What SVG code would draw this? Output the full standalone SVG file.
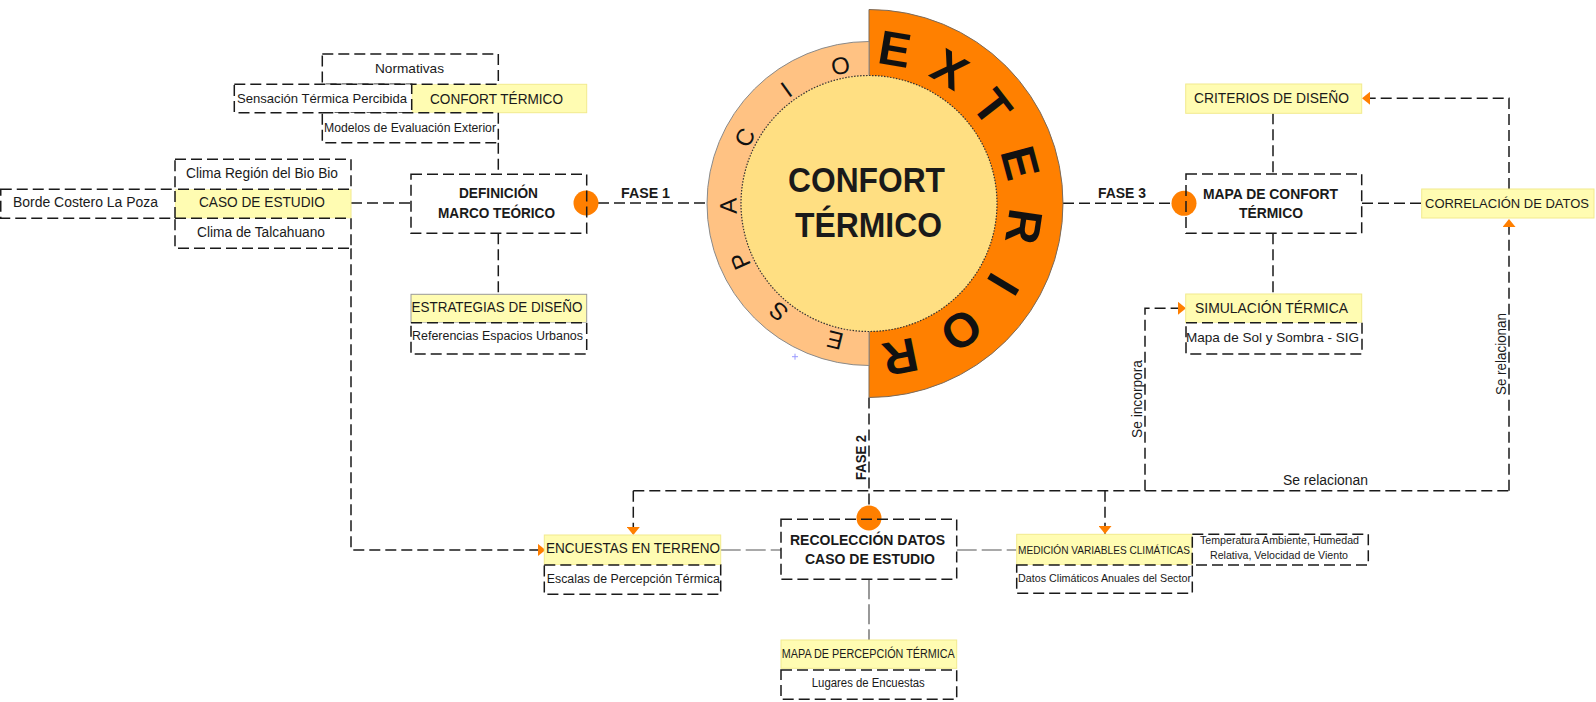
<svg xmlns="http://www.w3.org/2000/svg" width="1596" height="702" viewBox="0 0 1596 702">
<style>
.bx{fill:#fff;stroke:#1a1a1a;stroke-width:1.5;stroke-dasharray:11 5}
.bf{fill:#fff;stroke:none}
.bs{fill:none;stroke:#1a1a1a;stroke-width:1.5;stroke-dasharray:11 5}
.yb{fill:#FFFCB2;stroke:#F2EA8E;stroke-width:1}
.t{font-family:"Liberation Sans",Arial,sans-serif;fill:#1a1a1a;text-anchor:middle}
.b{font-weight:bold}
.c{fill:none;stroke:#1a1a1a;stroke-width:1.5;stroke-dasharray:11 5}
.g{fill:none;stroke:#555;stroke-width:1.2;stroke-dasharray:20 5}
.dot{fill:#FF7F00}
.rl{font-family:"Liberation Sans",Arial,sans-serif;fill:#111;text-anchor:middle}
</style>
<defs>
<marker id="ar" markerWidth="9" markerHeight="13" refX="8" refY="6.5" orient="auto" markerUnits="userSpaceOnUse"><path d="M0,0 L8,6.5 L0,13 Z" fill="#FF7F00"/></marker>
</defs>
<rect width="1596" height="702" fill="#fff"/>

<g id="connectors">
<path class="c" d="M351,203 H411"/>
<path class="c" d="M498.3,142.7 V174.3"/>
<path class="c" d="M498.3,233.3 V294.3"/>
<path class="c" d="M598,203 H707"/>
<path class="c" d="M1063,203.3 H1172"/>
<path class="c" d="M1273,113.3 V174"/>
<path class="c" d="M1273,233.3 V294"/>
<path class="c" d="M1362,203.3 H1422"/>
<path class="c" d="M1509,189 V98.3 H1362" marker-end="url(#ar)"/>
<path class="c" d="M869,397.5 V505"/>
<path class="c" d="M633.3,490.7 H1509"/>
<path class="c" d="M633.3,490.7 V535" marker-end="url(#ar)"/>
<path class="c" d="M1105,490.7 V534" marker-end="url(#ar)"/>
<path class="c" d="M1145,490.7 V308.3 H1186" marker-end="url(#ar)"/>
<path class="c" d="M1509,490.7 V219" marker-end="url(#ar)"/>
<path class="c" d="M351,248.3 V550 H545.5" marker-end="url(#ar)"/>
<path class="g" d="M720.7,550 H781"/>
<path class="g" d="M956.7,550 H1016.7"/>
<path class="g" d="M869,579.3 V640"/>
<text class="t b" x="645.5" y="198.3" font-size="14" textLength="49" lengthAdjust="spacingAndGlyphs">FASE 1</text>
<text class="t b" x="1122" y="198.3" font-size="14" textLength="48" lengthAdjust="spacingAndGlyphs">FASE 3</text>
<text class="t b" font-size="14" textLength="45" lengthAdjust="spacingAndGlyphs" transform="translate(865.5,457.5) rotate(-90)">FASE 2</text>
<text class="t" font-size="14" textLength="78" lengthAdjust="spacingAndGlyphs" transform="translate(1142,399) rotate(-90)">Se incorpora</text>
<text class="t" font-size="14" textLength="82" lengthAdjust="spacingAndGlyphs" transform="translate(1506,354) rotate(-90)">Se relacionan</text>
<text class="t" x="1325.5" y="485" font-size="14" textLength="85" lengthAdjust="spacingAndGlyphs">Se relacionan</text>
</g>

<g id="n-confort-termico">
<rect class="yb" x="411.7" y="84.3" width="175" height="28.4"/>
<rect class="bx" x="322.3" y="54" width="176" height="30.3"/>
<rect class="bx" x="234.3" y="84.3" width="177.4" height="28.4"/>
<rect class="bx" x="322.3" y="112.7" width="176" height="30"/>
<text class="t" x="409.5" y="73.3" font-size="13" textLength="69" lengthAdjust="spacingAndGlyphs">Normativas</text>
<text class="t" x="322" y="103.3" font-size="13" textLength="170" lengthAdjust="spacingAndGlyphs">Sensación Térmica Percibida</text>
<text class="t" x="496.5" y="103.5" font-size="15.5" textLength="133" lengthAdjust="spacingAndGlyphs">CONFORT TÉRMICO</text>
<text class="t" x="410" y="131.7" font-size="12.5" textLength="172" lengthAdjust="spacingAndGlyphs">Modelos de Evaluación Exterior</text>
</g>

<g id="n-caso-estudio">
<rect class="yb" x="175" y="189.3" width="176" height="29"/>
<rect class="bx" x="175" y="159.3" width="176" height="30"/>
<rect class="bx" x="0.75" y="189.3" width="174.25" height="29"/>
<rect class="bx" x="175" y="218.3" width="176" height="30"/>
<text class="t" x="262" y="178.3" font-size="14" textLength="152" lengthAdjust="spacingAndGlyphs">Clima Región del Bio Bio</text>
<text class="t" x="85.5" y="206.7" font-size="14" textLength="145" lengthAdjust="spacingAndGlyphs">Borde Costero La Poza</text>
<text class="t" x="262" y="206.7" font-size="15" textLength="126" lengthAdjust="spacingAndGlyphs">CASO DE ESTUDIO</text>
<text class="t" x="261" y="237.3" font-size="14" textLength="128" lengthAdjust="spacingAndGlyphs">Clima de Talcahuano</text>
</g>

<g id="n-definicion">
<rect class="bf" x="411" y="174.3" width="175.7" height="59"/>
<circle class="dot" cx="586" cy="203" r="12.5"/>
<rect class="bs" x="411" y="174.3" width="175.7" height="59"/>
<text class="t b" x="498.5" y="198.3" font-size="14.5" textLength="79" lengthAdjust="spacingAndGlyphs">DEFINICIÓN</text>
<text class="t b" x="496.5" y="218.3" font-size="14.5" textLength="117" lengthAdjust="spacingAndGlyphs">MARCO TEÓRICO</text>
</g>

<g id="n-estrategias">
<rect x="411" y="294.3" width="175.7" height="28.4" fill="#FFFCB2" stroke="#999" stroke-width="1"/>
<rect class="bx" x="411" y="322.7" width="175.7" height="31.3"/>
<text class="t" x="497" y="311.7" font-size="15" textLength="171" lengthAdjust="spacingAndGlyphs">ESTRATEGIAS DE DISEÑO</text>
<text class="t" x="497.5" y="340" font-size="12.5" textLength="171" lengthAdjust="spacingAndGlyphs">Referencias Espacios Urbanos</text>
</g>

<g id="n-centro">
<path d="M869,9.5 A194,194 0 0 1 869,397.5 Z" fill="#FF8000" stroke="#7a6a5a" stroke-width="1"/>
<path d="M869,41.5 A162,162 0 0 0 869,365.5 Z" fill="#FFC283" stroke="#8a8a8a" stroke-width="1"/>
<circle cx="869" cy="203.5" r="128" fill="#FFDF82" stroke="#333" stroke-width="1.2" stroke-dasharray="1.5 1.5"/>
<g class="rl" font-size="48" font-weight="bold">
<text x="869" y="63.5" transform="rotate(9.5 869 203.5)">E</text>
<text x="869" y="63.5" transform="rotate(31 869 203.5)">X</text>
<text x="869" y="63.5" transform="rotate(52 869 203.5)">T</text>
<text x="869" y="63.5" transform="rotate(75 869 203.5)">E</text>
<text x="869" y="63.5" transform="rotate(98.5 869 203.5)">R</text>
<text x="869" y="63.5" transform="rotate(121 869 203.5)">I</text>
<text x="869" y="63.5" transform="rotate(144 869 203.5)">O</text>
<text x="869" y="63.5" transform="rotate(168.5 869 203.5)">R</text>
</g>
<g class="rl" font-size="24">
<text x="869" y="71" transform="rotate(-166 869 203.5)">E</text>
<text x="869" y="71" transform="rotate(-140 869 203.5)">S</text>
<text x="869" y="71" transform="rotate(-114 869 203.5)">P</text>
<text x="869" y="71" transform="rotate(-91 869 203.5)">A</text>
<text x="869" y="71" transform="rotate(-62 869 203.5)">C</text>
<text x="869" y="71" transform="rotate(-36 869 203.5)">I</text>
<text x="869" y="71" transform="rotate(-11.7 869 203.5)">O</text>
</g>
<text class="t b" x="866.5" y="191.7" font-size="35" textLength="157" lengthAdjust="spacingAndGlyphs">CONFORT</text>
<text class="t b" x="868.5" y="236.7" font-size="35" textLength="147" lengthAdjust="spacingAndGlyphs">TÉRMICO</text>
<path d="M792,356.7 H798 M795,353.7 V359.7" stroke="#9a9aff" stroke-width="1"/>
</g>

<g id="n-criterios">
<rect class="yb" x="1185.7" y="84" width="176" height="29.3"/>
<text class="t" x="1271.5" y="103.3" font-size="15" textLength="155" lengthAdjust="spacingAndGlyphs">CRITERIOS DE DISEÑO</text>
</g>

<g id="n-mapa-confort">
<rect class="bf" x="1186" y="174" width="175.7" height="59.3"/>
<circle class="dot" cx="1184" cy="203.3" r="12.5"/>
<rect class="bs" x="1186" y="174" width="175.7" height="59.3"/>
<text class="t b" x="1270.5" y="199.3" font-size="14.5" textLength="135" lengthAdjust="spacingAndGlyphs">MAPA DE CONFORT</text>
<text class="t b" x="1271" y="218.3" font-size="14.5" textLength="64" lengthAdjust="spacingAndGlyphs">TÉRMICO</text>
</g>

<g id="n-correlacion">
<rect class="yb" x="1421.7" y="189" width="172.3" height="29"/>
<text class="t" x="1507" y="208" font-size="13.5" textLength="164" lengthAdjust="spacingAndGlyphs">CORRELACIÓN DE DATOS</text>
</g>

<g id="n-simulacion">
<rect class="yb" x="1185.7" y="294" width="176" height="28.7"/>
<rect class="bx" x="1186" y="322.7" width="176" height="31.3"/>
<text class="t" x="1271.5" y="313.3" font-size="15" textLength="153" lengthAdjust="spacingAndGlyphs">SIMULACIÓN TÉRMICA</text>
<text class="t" x="1272.5" y="341.7" font-size="13" textLength="173" lengthAdjust="spacingAndGlyphs">Mapa de Sol y Sombra - SIG</text>
</g>

<g id="n-recoleccion">
<rect class="bf" x="781" y="519.3" width="175.7" height="60"/>
<circle class="dot" cx="869" cy="518" r="12.5"/>
<rect class="bs" x="781" y="519.3" width="175.7" height="60"/>
<text class="t b" x="867.5" y="545" font-size="14.5" textLength="155" lengthAdjust="spacingAndGlyphs">RECOLECCIÓN DATOS</text>
<text class="t b" x="870" y="564.3" font-size="14.5" textLength="130" lengthAdjust="spacingAndGlyphs">CASO DE ESTUDIO</text>
</g>

<g id="n-encuestas">
<rect class="yb" x="544.3" y="535" width="176.4" height="30"/>
<rect class="bx" x="544.3" y="565" width="176.4" height="29.3"/>
<text class="t" x="633" y="553.3" font-size="15" textLength="174" lengthAdjust="spacingAndGlyphs">ENCUESTAS EN TERRENO</text>
<text class="t" x="633.3" y="582.7" font-size="12.5" textLength="173" lengthAdjust="spacingAndGlyphs">Escalas de Percepción Térmica</text>
</g>

<g id="n-medicion">
<rect class="yb" x="1016.7" y="534.3" width="175.6" height="30.7"/>
<rect class="bx" x="1016.7" y="565" width="175.6" height="28.3"/>
<rect class="bx" x="1192.3" y="534.3" width="176" height="30.7"/>
<text class="t" x="1104" y="554" font-size="11" textLength="172" lengthAdjust="spacingAndGlyphs">MEDICIÓN VARIABLES CLIMÁTICAS</text>
<text class="t" x="1104.5" y="581.7" font-size="11.5" textLength="173" lengthAdjust="spacingAndGlyphs">Datos Climáticos Anuales del Sector</text>
<text class="t" x="1279.5" y="544" font-size="11" textLength="159" lengthAdjust="spacingAndGlyphs">Temperatura Ambiente, Humedad</text>
<text class="t" x="1279" y="559" font-size="11" textLength="138" lengthAdjust="spacingAndGlyphs">Relativa, Velocidad de Viento</text>
</g>

<g id="n-mapa-percepcion">
<rect class="yb" x="781" y="640" width="175.7" height="28.3"/>
<rect class="bx" x="781" y="670" width="175.7" height="29.3"/>
<text class="t" x="868.3" y="658.3" font-size="12" textLength="173" lengthAdjust="spacingAndGlyphs">MAPA DE PERCEPCIÓN TÉRMICA</text>
<text class="t" x="868.3" y="686.7" font-size="12" textLength="113" lengthAdjust="spacingAndGlyphs">Lugares de Encuestas</text>
</g>
</svg>
